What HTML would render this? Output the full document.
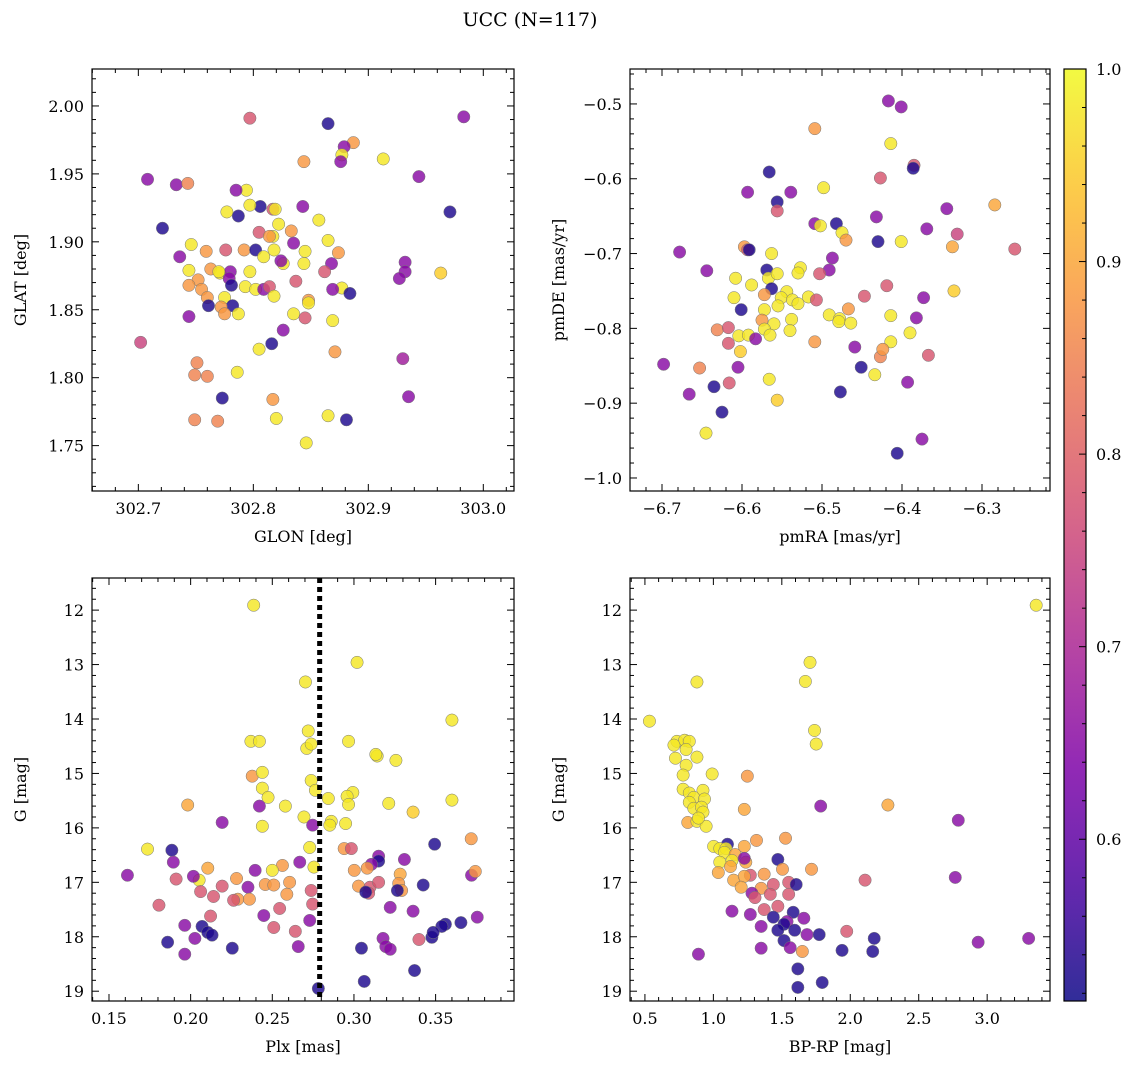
<!DOCTYPE html>
<html><head><meta charset="utf-8">
<style>
html,body{margin:0;padding:0;background:#fff;}
svg text{font-family:"DejaVu Serif","Liberation Serif",serif;fill:#000;}
</style></head>
<body>
<svg id="fig" width="1136" height="1068" xmlns="http://www.w3.org/2000/svg">
<text x="530" y="26" font-size="19" text-anchor="middle">UCC (N=117)</text>
</svg>
<script>
// ---- Panel 1: GLON vs GLAT ----
const glonA=[302.797,302.865,302.983,302.887,302.879,302.877,302.876,302.844,302.913,302.944,302.708,302.733,302.743,302.794,302.785,302.843,302.806,302.817,302.819,302.797,302.777,302.787,302.857,302.971,302.721,302.822,302.833,302.805,302.817,302.814,302.835,302.865,302.746,302.759,302.776,302.792,302.802,302.818,302.845,302.874,302.932,302.736,302.809,302.826,302.844,302.824,302.868,302.744,302.763,302.797,302.771,302.780,302.779,302.770,302.862,302.932,302.963,302.927,302.752,302.744,302.755,302.793,302.802,302.809,302.781,302.814,302.837,302.877,302.884,302.869,302.760,302.775,302.818,302.761,302.782,302.848,302.848,302.772,302.775,302.787,302.835,302.845,302.744,302.869,302.826,302.816,302.702,302.805,302.871,302.751,302.930,302.749,302.760,302.786,302.935,302.773,302.817,302.865,302.749,302.769,302.820,302.881,302.846];
const glatA=[1.991,1.987,1.992,1.973,1.970,1.964,1.959,1.959,1.961,1.948,1.946,1.942,1.943,1.938,1.938,1.926,1.926,1.924,1.924,1.927,1.922,1.919,1.916,1.922,1.910,1.913,1.908,1.907,1.904,1.904,1.899,1.901,1.898,1.893,1.894,1.894,1.894,1.894,1.893,1.892,1.885,1.889,1.889,1.884,1.884,1.886,1.884,1.879,1.880,1.878,1.877,1.878,1.873,1.878,1.878,1.878,1.877,1.873,1.872,1.868,1.865,1.867,1.865,1.865,1.868,1.867,1.871,1.866,1.862,1.865,1.859,1.859,1.860,1.853,1.853,1.857,1.855,1.852,1.847,1.847,1.847,1.844,1.845,1.842,1.835,1.825,1.826,1.821,1.819,1.811,1.814,1.802,1.801,1.804,1.786,1.785,1.784,1.772,1.769,1.768,1.770,1.769,1.752];
const probA=[.78,.53,.65,.88,.65,.98,.65,.88,.98,.65,.65,.65,.85,.98,.65,.65,.53,.78,.98,.98,.98,.53,.98,.53,.53,.98,.88,.78,.98,.88,.65,.98,.98,.88,.78,.88,.53,.98,.98,.88,.65,.65,.98,.98,.98,.65,.65,.98,.88,.98,.98,.65,.65,.98,.78,.65,.95,.65,.88,.88,.88,.98,.98,.65,.53,.78,.78,.98,.53,.65,.88,.98,.98,.53,.53,.88,.98,.88,.88,.98,.98,.78,.65,.98,.65,.53,.75,.98,.88,.85,.68,.85,.85,.98,.65,.53,.88,.98,.85,.85,.98,.53,.98];
// ---- Panel 2: pmRA vs pmDE ----
const pmraB=[-6.417,-6.401,-6.509,-6.414,-6.385,-6.386,-6.566,-6.498,-6.284,-6.556,-6.593,-6.539,-6.556,-6.427,-6.344,-6.432,-6.369,-6.331,-6.509,-6.482,-6.502,-6.475,-6.470,-6.430,-6.401,-6.259,-6.678,-6.337,-6.597,-6.593,-6.591,-6.563,-6.487,-6.644,-6.569,-6.527,-6.491,-6.503,-6.530,-6.608,-6.588,-6.567,-6.556,-6.419,-6.563,-6.572,-6.335,-6.544,-6.447,-6.373,-6.610,-6.551,-6.517,-6.537,-6.555,-6.507,-6.467,-6.601,-6.530,-6.572,-6.491,-6.478,-6.414,-6.382,-6.538,-6.575,-6.560,-6.479,-6.464,-6.572,-6.540,-6.631,-6.617,-6.604,-6.592,-6.565,-6.390,-6.583,-6.367,-6.427,-6.617,-6.509,-6.414,-6.459,-6.602,-6.424,-6.698,-6.605,-6.653,-6.451,-6.434,-6.393,-6.635,-6.616,-6.566,-6.666,-6.477,-6.556,-6.625,-6.375,-6.645,-6.406];
const pmdeB=[-0.496,-0.504,-0.533,-0.553,-0.582,-0.586,-0.591,-0.612,-0.635,-0.631,-0.618,-0.618,-0.643,-0.599,-0.640,-0.651,-0.667,-0.674,-0.660,-0.660,-0.663,-0.672,-0.682,-0.684,-0.684,-0.694,-0.698,-0.691,-0.691,-0.695,-0.695,-0.700,-0.706,-0.723,-0.722,-0.719,-0.722,-0.727,-0.726,-0.733,-0.742,-0.733,-0.727,-0.743,-0.747,-0.755,-0.750,-0.751,-0.757,-0.759,-0.759,-0.759,-0.758,-0.762,-0.770,-0.762,-0.774,-0.775,-0.767,-0.775,-0.782,-0.787,-0.783,-0.786,-0.788,-0.789,-0.794,-0.791,-0.793,-0.801,-0.803,-0.802,-0.799,-0.810,-0.809,-0.809,-0.806,-0.814,-0.836,-0.838,-0.820,-0.818,-0.818,-0.825,-0.831,-0.828,-0.848,-0.852,-0.853,-0.852,-0.862,-0.872,-0.878,-0.873,-0.868,-0.888,-0.885,-0.896,-0.912,-0.948,-0.940,-0.967];
const probB=[.65,.65,.88,.98,.78,.53,.53,.98,.9,.53,.65,.65,.78,.78,.65,.65,.65,.75,.65,.53,.98,.98,.88,.53,.98,.78,.65,.9,.88,.78,.53,.98,.65,.65,.53,.98,.65,.78,.98,.98,.98,.98,.98,.78,.53,.88,.95,.98,.78,.65,.98,.98,.98,.98,.98,.78,.88,.53,.98,.98,.98,.98,.98,.65,.98,.88,.98,.98,.98,.98,.98,.85,.78,.98,.98,.98,.98,.65,.78,.85,.78,.88,.98,.65,.95,.88,.65,.65,.85,.53,.98,.65,.53,.78,.98,.65,.53,.95,.53,.65,.98,.53];
// ---- Panel 3: Plx vs G ----
const plxC=[0.2386,0.3019,0.2703,0.2369,0.2421,0.2720,0.2967,0.2711,0.2738,0.3142,0.3257,0.3600,0.3134,0.2377,0.2439,0.2738,0.2439,0.2764,0.2474,0.2843,0.2993,0.2958,0.2967,0.2421,0.1982,0.2580,0.3213,0.3600,0.3362,0.2694,0.2861,0.2949,0.2439,0.2852,0.2193,0.2747,0.3494,0.2729,0.2940,0.2984,0.1736,0.1885,0.3718,0.3151,0.3151,0.2562,0.3107,0.1894,0.3309,0.2668,0.2755,0.2105,0.1613,0.2395,0.2500,0.3002,0.3081,0.3283,0.3720,0.3743,0.1911,0.2052,0.2281,0.2017,0.2457,0.2509,0.2351,0.2193,0.2606,0.2738,0.3028,0.3098,0.3151,0.3274,0.3424,0.3090,0.2061,0.3072,0.3292,0.3266,0.2289,0.2360,0.2140,0.2263,0.2589,0.1806,0.2747,0.3222,0.3362,0.2448,0.2545,0.2122,0.3755,0.3560,0.3655,0.2729,0.3538,0.2509,0.2641,0.1964,0.2070,0.2105,0.2131,0.2026,0.1859,0.3178,0.3195,0.3222,0.3046,0.3477,0.3398,0.3485,0.2255,0.2659,0.1964,0.3371,0.3063,0.2782];
const gC=[11.91,12.96,13.32,14.41,14.41,14.22,14.41,14.54,14.46,14.68,14.76,14.02,14.65,15.05,14.98,15.13,15.27,15.31,15.44,15.46,15.35,15.42,15.57,15.60,15.58,15.60,15.55,15.49,15.71,15.80,15.88,15.92,15.97,15.95,15.90,15.95,16.30,16.36,16.38,16.38,16.39,16.41,16.20,16.52,16.61,16.69,16.67,16.63,16.58,16.63,16.72,16.74,16.87,16.78,16.78,16.78,16.74,16.85,16.87,16.80,16.94,16.96,16.93,16.89,17.04,17.05,17.09,17.07,17.00,17.15,17.07,17.09,17.00,17.02,17.05,17.20,17.17,17.18,17.15,17.15,17.31,17.31,17.26,17.33,17.22,17.42,17.40,17.46,17.53,17.61,17.48,17.62,17.64,17.77,17.74,17.70,17.81,17.83,17.90,17.79,17.81,17.92,17.97,18.03,18.10,18.03,18.18,18.23,18.21,18.01,18.05,17.92,18.21,18.18,18.32,18.62,18.82,18.95];
const probC=[.98,.98,.98,.98,.98,.98,.98,.98,.98,.98,.98,.98,.98,.88,.98,.98,.98,.98,.98,.98,.98,.98,.98,.65,.9,.98,.98,.98,.95,.98,.98,.98,.98,.98,.65,.65,.53,.98,.88,.78,.98,.53,.88,.65,.53,.88,.65,.65,.65,.65,.98,.9,.65,.65,.98,.88,.88,.9,.65,.88,.78,.98,.88,.65,.88,.88,.65,.78,.88,.78,.88,.78,.78,.88,.53,.78,.78,.53,.88,.53,.88,.88,.78,.78,.88,.78,.78,.65,.65,.65,.78,.78,.65,.53,.53,.65,.53,.78,.78,.65,.53,.53,.53,.65,.53,.65,.65,.65,.53,.53,.78,.53,.53,.65,.65,.53,.53,.53];
// ---- Panel 4: BP-RP vs G ----
const bprpD=[3.358,1.706,1.672,0.880,0.533,1.739,1.751,0.734,0.790,0.824,0.712,0.801,0.723,0.880,0.801,0.779,0.991,1.248,0.779,0.824,0.924,0.857,0.935,0.824,0.857,0.913,1.784,2.275,1.226,0.924,0.813,0.880,0.947,2.789,0.891,1.315,1.103,1.527,1.002,1.047,1.092,1.081,1.159,1.226,1.136,1.047,1.237,1.125,1.226,1.471,1.505,1.717,1.036,1.270,2.767,2.108,1.148,1.226,1.371,1.550,1.605,1.438,1.349,1.203,1.282,1.304,1.416,1.550,1.471,1.371,1.136,1.270,1.583,1.438,1.538,1.661,1.516,1.471,1.594,1.684,1.349,1.773,2.175,1.974,3.303,2.934,1.516,1.561,1.349,1.650,1.940,2.164,0.891,1.617,1.795,1.617];
const gD=[11.91,12.96,13.31,13.32,14.04,14.21,14.46,14.41,14.39,14.41,14.48,14.56,14.72,14.70,14.85,15.03,15.01,15.05,15.29,15.36,15.31,15.44,15.47,15.53,15.64,15.62,15.60,15.58,15.66,15.71,15.90,15.88,15.97,15.86,15.82,16.23,16.30,16.19,16.34,16.38,16.38,16.45,16.49,16.34,16.60,16.63,16.63,16.71,16.56,16.58,16.76,16.76,16.82,16.87,16.91,16.96,16.96,16.89,16.85,17.00,17.04,17.04,17.11,17.09,17.20,17.28,17.22,17.22,17.44,17.50,17.53,17.59,17.55,17.64,17.72,17.66,17.77,17.88,17.88,17.96,17.81,17.96,18.03,17.90,18.03,18.10,18.07,18.20,18.21,18.27,18.25,18.27,18.32,18.59,18.84,18.93];
const probD=[.98,.98,.98,.98,.98,.98,.98,.98,.98,.98,.98,.98,.98,.98,.98,.98,.98,.88,.98,.98,.98,.98,.98,.98,.98,.98,.65,.9,.9,.98,.9,.98,.98,.65,.98,.88,.53,.88,.98,.98,.98,.98,.9,.9,.98,.98,.9,.9,.65,.53,.88,.88,.9,.78,.65,.78,.9,.9,.88,.78,.53,.78,.88,.9,.65,.78,.78,.78,.78,.78,.65,.65,.53,.53,.65,.65,.53,.53,.53,.65,.65,.53,.53,.78,.65,.65,.53,.65,.65,.88,.53,.53,.65,.53,.53,.53];
const plxLine=0.279;
const cbTicks=[0.6,0.7,0.8,0.9,1.0];
const vmin=0.516, vmax=1.0;

const NS="http://www.w3.org/2000/svg";
const svg=document.getElementById('fig');
function mk(tag,attrs,parent){const e=document.createElementNS(NS,tag);for(const k in attrs)e.setAttribute(k,attrs[k]);(parent||svg).appendChild(e);return e;}
const stops=[[0,[13,8,135]],[0.125,[76,2,161]],[0.25,[126,3,168]],[0.375,[169,35,149]],[0.5,[204,71,120]],[0.625,[229,107,93]],[0.75,[248,149,64]],[0.875,[253,195,40]],[1,[240,249,33]]];
function plasma(t){t=Math.max(0,Math.min(1,t));for(let i=1;i<stops.length;i++){if(t<=stops[i][0]){const a=stops[i-1],b=stops[i];const f=(t-a[0])/(b[0]-a[0]);const c=a[1].map((v,j)=>Math.round(v+(b[1][j]-v)*f));return `rgb(${c[0]},${c[1]},${c[2]})`;}}return 'rgb(240,249,33)';}
function fmt(v,d){return v.toFixed(d).replace('-','\u2212');}

function panel(o){
  const g=mk('g',{});
  
  
  const X=v=>o.x0+(v-o.xmin)/(o.xmax-o.xmin)*(o.x1-o.x0);
  const Y=v=>o.y0+(o.ymax-v)/(o.ymax-o.ymin)*(o.y1-o.y0);
  for(let i=0;i<o.xs.length;i++){
    const c=mk('circle',{cx:X(o.xs[i]),cy:Y(o.ys[i]),r:6.2,fill:plasma((o.ps[i]-vmin)/(vmax-vmin)),'fill-opacity':0.82,stroke:'#777','stroke-width':0.5},g);
    
    
  }
  if(o.vline!==undefined){
    const l=mk('line',{x1:X(o.vline),x2:X(o.vline),y1:o.y0,y2:o.y1,stroke:'#000','stroke-width':5,'stroke-dasharray':'5,4'},g);
    
    
  }
  const fr=mk('rect',{x:o.x0,y:o.y0,width:o.x1-o.x0,height:o.y1-o.y0,fill:'none',stroke:'#000','stroke-width':1.2},g);
  
  
  for(let k=Math.ceil(o.xmin/o.xm-1e-6);k*o.xm<=o.xmax+1e-9;k++){
    const v=k*o.xm;const px=X(v);const major=Math.abs(v/o.xM-Math.round(v/o.xM))<1e-6;const L=major?7:4;
    mk('line',{x1:px,x2:px,y1:o.y1,y2:o.y1-L,stroke:'#000','stroke-width':1},g);
    mk('line',{x1:px,x2:px,y1:o.y0,y2:o.y0+L,stroke:'#000','stroke-width':1},g);
    if(major){const t=mk('text',{x:px,y:o.y1+23,'font-size':16,'text-anchor':'middle'},g);t.textContent=fmt(v,o.xd);
      }
  }
  for(let k=Math.ceil(o.ymin/o.ym-1e-6);k*o.ym<=o.ymax+1e-9;k++){
    const v=k*o.ym;const py=Y(v);const major=Math.abs(v/o.yM-Math.round(v/o.yM))<1e-6;const L=major?7:4;
    mk('line',{x1:o.x0,x2:o.x0+L,y1:py,y2:py,stroke:'#000','stroke-width':1},g);
    mk('line',{x1:o.x1,x2:o.x1-L,y1:py,y2:py,stroke:'#000','stroke-width':1},g);
    if(major){const t=mk('text',{x:o.x0-8,y:py+6,'font-size':16,'text-anchor':'end'},g);t.textContent=fmt(v,o.yd);
      }
  }
  const xl=mk('text',{x:(o.x0+o.x1)/2,y:o.y1+51,'font-size':16,'text-anchor':'middle'},g);xl.textContent=o.xlab;
  
  const yc=(o.y0+o.y1)/2;
  const yl=mk('text',{x:o.x0-66,y:yc,'font-size':16,'text-anchor':'middle',transform:`rotate(-90 ${o.x0-66} ${yc})`},g);yl.textContent=o.ylab;
  
}
panel({name:'glon-glat-panel',xs:glonA,ys:glatA,ps:probA,x0:92,x1:514,y0:69,y1:491,xmin:302.6597,xmax:303.0267,ymin:1.7166,ymax:2.0272,xM:0.1,xm:0.02,yM:0.05,ym:0.01,xd:1,yd:2,xlab:'GLON [deg]',ylab:'GLAT [deg]'});
panel({name:'proper-motion-panel',xs:pmraB,ys:pmdeB,ps:probB,x0:630,x1:1050,y0:69,y1:491,xmin:-6.74,xmax:-6.215,ymin:-1.0174,ymax:-0.4533,xM:0.1,xm:0.02,yM:0.1,ym:0.02,xd:1,yd:1,xlab:'pmRA [mas/yr]',ylab:'pmDE [mas/yr]'});
panel({name:'parallax-magnitude-panel',xs:plxC,ys:gC.map(v=>-v),ps:probC,x0:92,x1:514,y0:578,y1:1001,xmin:0.1396,xmax:0.398,ymin:-19.18,ymax:-11.41,xM:0.05,xm:0.01,yM:1,ym:0.2,xd:2,yd:0,xlab:'Plx [mas]',ylab:'G [mag]',vline:plxLine});
panel({name:'cmd-panel',xs:bprpD,ys:gD.map(v=>-v),ps:probD,x0:630,x1:1050,y0:578,y1:1001,xmin:0.391,xmax:3.459,ymin:-19.18,ymax:-11.41,xM:0.5,xm:0.1,yM:1,ym:0.2,xd:1,yd:0,xlab:'BP-RP [mag]',ylab:'G [mag]'});
document.querySelectorAll('text').forEach(t=>{if(/^\u2212\d+$/.test(t.textContent))t.textContent=t.textContent.slice(1);});

const defs=mk('defs',{});
const lg=mk('linearGradient',{id:'cbg',x1:0,y1:1,x2:0,y2:0},defs);
for(let i=0;i<=20;i++)mk('stop',{offset:i/20,'stop-color':plasma(i/20),'stop-opacity':0.85},lg);
const cb=mk('g',{});


const cbx0=1064,cbx1=1086,cby0=69,cby1=1001;
mk('rect',{x:cbx0,y:cby0,width:cbx1-cbx0,height:cby1-cby0,fill:'url(#cbg)',stroke:'#000','stroke-width':1.2},cb);
const CY=v=>cby1-(v-vmin)/(vmax-vmin)*(cby1-cby0);
for(let v=0.52;v<=1.0001;v+=0.02){const py=CY(v);const major=cbTicks.some(t=>Math.abs(t-v)<1e-6);
  mk('line',{x1:cbx1,x2:cbx1-(major?7:4),y1:py,y2:py,stroke:'#000','stroke-width':1},cb);}
cbTicks.forEach(v=>{const t=mk('text',{x:cbx1+10,y:CY(v)+6,'font-size':16},cb);t.textContent=v.toFixed(1);
  });
</script>
</body></html>
